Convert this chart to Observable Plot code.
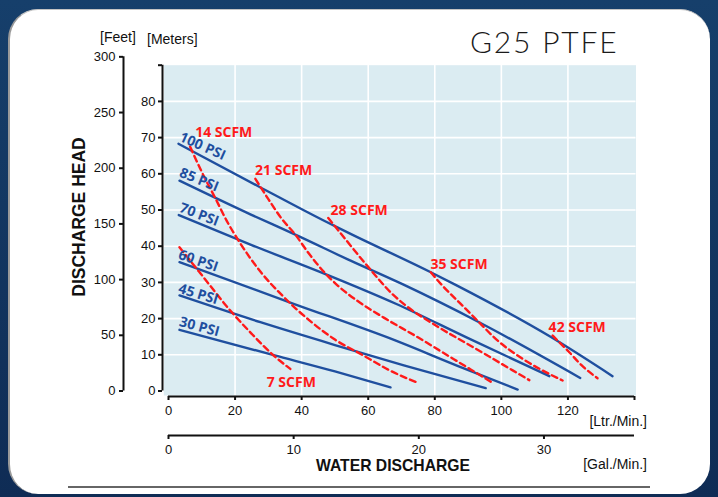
<!DOCTYPE html>
<html><head><meta charset="utf-8">
<script src="https://cdn.jsdelivr.net/npm/d3@7"></script>
<script src="https://cdn.jsdelivr.net/npm/@observablehq/plot@0.6"></script>
<style>
html,body{margin:0;padding:0;}
body{width:718px;height:497px;overflow:hidden;position:relative;background:linear-gradient(#163f6b,#0f2c55);font-family:"Liberation Sans",Arial,sans-serif;}
#panel{position:absolute;left:8px;top:9px;width:700px;height:484px;background:#fff;border-radius:30px;border-left:2px solid #9a9a9a;border-top:1px solid #c4c4c4;}
#chart{position:absolute;left:0;top:0;}
.lbl{position:absolute;white-space:nowrap;color:#111;line-height:1;}
#title{left:470px;top:26px;font-family:"Lato",sans-serif;font-weight:300;font-size:30px;letter-spacing:1.8px;color:#1a1a1a;}
#feet{left:100px;top:30px;font-size:14px;}
#meters{left:147px;top:31.5px;font-size:14px;}
#yhead{left:80px;top:217px;font-size:17.5px;font-weight:bold;transform:translate(-50%,-50%) rotate(-90deg);}
#xhead{left:393px;top:458px;font-size:15.7px;font-weight:bold;transform:translateX(-50%);}
#ltr{right:71px;top:414px;font-size:14px;}
#gal{right:71px;top:457px;font-size:14px;}
#rule{position:absolute;left:68px;top:486px;width:582px;height:2px;background:#666;}
</style></head><body>
<div id="panel"></div>
<div id="chart"></div>
<div class="lbl" id="title">G25 PTFE</div>
<div class="lbl" id="feet">[Feet]</div>
<div class="lbl" id="meters">[Meters]</div>
<div class="lbl" id="yhead">DISCHARGE HEAD</div>
<div class="lbl" id="xhead">WATER DISCHARGE</div>
<div class="lbl" id="ltr">[Ltr./Min.]</div>
<div class="lbl" id="gal">[Gal./Min.]</div>
<div id="rule"></div>
<script>
// ---- axis ticks ----
const ltrTicks = [0, 20, 40, 60, 80, 100, 120, 140];
const meterTicks = [0, 10, 20, 30, 40, 50, 60, 70, 80, 90];
const feetTicks = [0, 50, 100, 150, 200, 250, 300];
const galTicks = [0, 10, 20, 30];
const FT = 0.3077;   // meters per foot as drawn on the chart
const GAL = 3.76;    // liters per gallon as drawn on the chart

// ---- pressure curves [flow L/min, head m] ----
const psiNames = ["100 PSI", "85 PSI", "70 PSI", "60 PSI", "45 PSI", "30 PSI"];
const psi100 = [[3, 68.3], [27.1, 56.5], [46.6, 47.1], [54.7, 43.4], [78.8, 32.8], [86.7, 29.1], [114.9, 14.9], [133.4, 4.1]];
const psi85 = [[3.3, 58.1], [24.6, 48.8], [38.1, 43.2], [54.7, 36.0], [70.3, 29.5], [93.3, 19.0], [123.7, 3.6]];
const psi70 = [[3.1, 48.6], [25, 40.3], [46.6, 32.5], [68.3, 24.1], [90, 14.6], [114.4, 4.1]];
const psi60 = [[3.3, 35.6], [37.6, 24.1], [68.3, 13.9], [87, 6.9], [104.9, 0.4]];
const psi45 = [[3.3, 26.4], [27.6, 19.0], [50, 12.7], [70.7, 7.1], [95.3, 0.8]];
const psi30 = [[3.3, 16.9], [31.6, 9.9], [50, 5.4], [66.7, 1.0]];
const psiSeries = [psi100, psi85, psi70, psi60, psi45, psi30];
const psiLabelQ = [3.0, 3.0, 3.0, 2.7, 2.7, 3.0];
const psiLabelH = [69.2, 59.3, 49.6, 36.6, 27.2, 18.0];
const psiLabelAngle = [24, 22, 21, 19, 17, 15];

// ---- air consumption curves ----
const scfmNames = ["7 SCFM", "14 SCFM", "21 SCFM", "28 SCFM", "35 SCFM", "42 SCFM"];
const scfm7 = [[3.3, 39.7], [9.5, 32.6], [18.5, 22.3], [25, 15.8], [31.6, 9.8], [36.6, 6.1]];
const scfm14 = [[6.5, 67.5], [10, 60.5], [14, 53.4], [17.5, 47], [21, 41.6], [27.6, 33], [34.6, 26], [42.6, 19.3], [50, 14.2], [58.6, 9.8], [66, 5.9], [74.8, 2.3]];
const scfm21 = [[26.1, 58.6], [30, 53], [34, 47.6], [38.1, 43.2], [42, 38.2], [46.6, 33], [51, 29], [56.6, 25], [64.8, 20.2], [74.8, 14.9], [84.8, 9.3], [97.3, 2.3]];
const scfm28 = [[48, 47.8], [53.1, 42], [59.6, 34.7], [67.7, 26.4], [71.3, 23.6], [80.3, 18.1], [92.3, 11.7], [103.4, 5.7], [108.4, 3.0]];
const scfm35 = [[78.8, 32.8], [82.3, 29.1], [88.3, 23.6], [93.3, 19], [98.3, 14.4], [106.4, 8.9], [118.4, 2.9]];
const scfm42 = [[115.4, 15.3], [120.4, 10.7], [124, 7.2], [128.9, 3.5]];
const scfmSeries = [scfm7, scfm14, scfm21, scfm28, scfm35, scfm42];
const scfmLabelQ = [29.5, 8.0, 26.0, 48.7, 78.7, 114.2];
const scfmLabelH = [1.2, 70.3, 59.8, 48.5, 33.8, 16.2];

// ---- tables ----
const toRows = (names, series) => series.flatMap((pts, i) => pts.map(([q, h]) => ({name: names[i], q, h})));
const psiRows = toRows(psiNames, psiSeries);
const scfmRows = toRows(scfmNames, scfmSeries);
const psiLabels = psiNames.map((name, i) => ({name, q: psiLabelQ[i], h: psiLabelH[i], a: psiLabelAngle[i]}));
const scfmLabels = scfmNames.map((name, i) => ({name, q: scfmLabelQ[i], h: scfmLabelH[i]}));

const BLUE = "#1f4f9f", RED = "#ff1a1a";

const chart = Plot.plot({
  width: 718, height: 497,
  marginLeft: 168, marginRight: 84, marginTop: 64.7, marginBottom: 106.5,
  x: {domain: [0, 140], axis: null},
  y: {domain: [0, 90], axis: null},
  style: {background: "transparent", fontFamily: "Liberation Sans, Arial, sans-serif", fontSize: "13px", color: "#111", overflow: "visible"},
  marks: [
    Plot.frame({fill: "#dbecf2", stroke: null, insetLeft: -4.7, insetBottom: -4.5, insetRight: -1.5}),
    Plot.gridX(ltrTicks.filter(d => d > 0 && d < 140), {stroke: "white", strokeOpacity: 1, strokeWidth: 1.6, insetBottom: -4.5}),
    Plot.gridY(meterTicks.filter(d => d > 0 && d < 90), {stroke: "white", strokeOpacity: 1, strokeWidth: 1.6, insetLeft: -4.7, insetRight: -1.5}),
    // meters axis
    Plot.ruleX([0], {y1: 0, y2: 90, dx: -6, strokeWidth: 2}),
    Plot.axisY(meterTicks, {anchor: "left", dx: -6, tickSize: 4, tickPadding: 3, strokeWidth: 2, tickFormat: d => d === 90 ? "" : d, label: null}),
    // feet axis
    Plot.ruleX([0], {y1: 0, y2: 300 * FT, dx: -45, strokeWidth: 2}),
    Plot.axisY(feetTicks.map(f => f * FT), {anchor: "left", dx: -45, tickSize: 4, tickPadding: 4, strokeWidth: 2, tickFormat: d => Math.round(d / FT), label: null}),
    // liters axis
    Plot.ruleY([0], {x1: 0, x2: 140, dy: 5.5, strokeWidth: 2}),
    Plot.axisX(ltrTicks, {anchor: "bottom", dy: 5.5, tickSize: 4, tickPadding: 5, strokeWidth: 2, tickFormat: d => d === 140 ? "" : d, label: null}),
    // gallons axis
    Plot.ruleY([0], {x1: 0, x2: 140, dy: 44.5, strokeWidth: 2}),
    Plot.axisX(galTicks.map(g => g * GAL), {anchor: "bottom", dy: 44.5, tickSize: 4, tickPadding: 5, strokeWidth: 2, tickFormat: d => Math.round(d / GAL), label: null}),
    // curves
    Plot.line(psiRows, {x: "q", y: "h", z: "name", stroke: BLUE, strokeWidth: 2.4, curve: "monotone-x"}),
    Plot.line(scfmRows, {x: "q", y: "h", z: "name", stroke: RED, strokeWidth: 2.4, strokeDasharray: "6,4", curve: "monotone-x"}),
    Plot.text(psiLabels, {x: "q", y: "h", text: "name", rotate: "a", textAnchor: "start", lineAnchor: "bottom", fill: BLUE, fontSize: 14, fontWeight: 700, fontFamily: "Open Sans"}),
    Plot.text(scfmLabels, {x: "q", y: "h", text: "name", textAnchor: "start", lineAnchor: "bottom", fill: RED, fontSize: 14, fontWeight: 700, fontFamily: "Open Sans"})
  ]
});
document.getElementById("chart").appendChild(chart);
</script>
</body></html>
